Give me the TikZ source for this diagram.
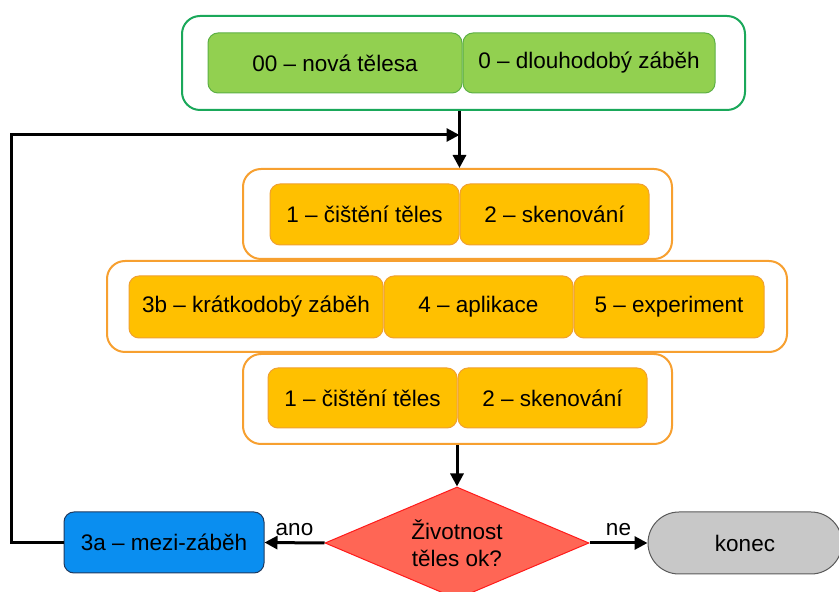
\documentclass[tikz,border=0pt]{standalone}
\usepackage{fontspec}
\setmainfont{Liberation Sans}
\usetikzlibrary{arrows.meta,positioning,shapes.geometric}
\definecolor{ltgreenline}{HTML}{1AA85A}
\definecolor{ltgreen}{HTML}{92D050}
\definecolor{ltgreenedge}{HTML}{5DB045}
\definecolor{ltorangeline}{HTML}{F7A030}
\definecolor{ltgold}{HTML}{FFC000}
\definecolor{ltgoldedge}{HTML}{F0A030}
\definecolor{ltblue}{HTML}{0A8EF0}
\definecolor{ltblueedge}{HTML}{1F3A60}
\definecolor{ltred}{HTML}{FF6655}
\definecolor{ltrededge}{HTML}{FF1A1A}
\definecolor{ltgrey}{HTML}{C8C8C8}
\definecolor{ltgreyedge}{HTML}{5A5A5A}
\tikzset{
  lt text/.style={font=\fontsize{22.5}{27}\selectfont, text=black},
  lt panel/.style={draw=#1, line width=2pt, rounded corners=18pt, fill=white,
    inner sep=0pt},
  lt box/.style={line width=1pt, rounded corners=10pt, inner sep=0pt,
    minimum height=61pt, align=center},
  lt green/.style={lt box, draw=ltgreenedge, fill=ltgreen},
  lt gold/.style={lt box, draw=ltgoldedge, fill=ltgold},
  lt arrow/.style={-{Triangle[length=13pt,width=13pt]}, line width=3pt, draw=black},
  lt label/.style={above=6pt, inner sep=0pt}
}

\begin{document}
\begin{tikzpicture}[lt text, x=1pt, y=1pt]
  \useasboundingbox (0,0) rectangle (839,592);
  % start
  \node[lt panel=ltgreenline, minimum width=563pt, minimum height=94pt] (start) at (463.5,529) {};
  \node[lt green, minimum width=254pt, minimum height=60pt] (new) at (335,529) {00 – nová tělesa};
  \node[lt green, minimum width=252pt, minimum height=60pt, right=0pt of new] (long) {0 – dlouhodobý záběh};
  % cycle
  \node[lt panel=ltorangeline, minimum width=429pt, minimum height=90pt] (prep) at (457.5,378) {};
  \node[lt gold, minimum width=189pt] (clean) at (364.5,377.5) {1 – čištění těles};
  \node[lt gold, minimum width=189pt, right=0pt of clean] (scan) {2 – skenování};
  \node[lt panel=ltorangeline, minimum width=680pt, minimum height=91pt] (test) at (447,285.5) {};
  \node[lt gold, minimum width=254pt, minimum height=62pt] (short) at (256,285) {3b – krátkodobý záběh};
  \node[lt gold, minimum width=189pt, minimum height=62pt, right=0pt of short] (app) {4 – aplikace};
  \node[lt gold, minimum width=190pt, minimum height=62pt, right=0pt of app] (exp) {5 – experiment};
  \node[lt panel=ltorangeline, minimum width=429pt, minimum height=90pt] (post) at (457.5,193) {};
  \node[lt gold, minimum width=189pt, minimum height=60pt] (clean2) at (362.5,194) {1 – čištění těles};
  \node[lt gold, minimum width=189pt, minimum height=60pt, right=0pt of clean2] (scan2) {2 – skenování};
  % decision
  \node[shape=diamond, aspect=2.36, draw=ltrededge, fill=ltred, line width=1pt, inner sep=0pt,
    minimum width=264pt, minimum height=112pt, align=center] (ok) at (457,49) {Životnost\\těles ok?};
  \node[lt box, draw=ltblueedge, fill=ltblue, minimum width=200pt] (mid) at (164,49.5) {3a – mezi-záběh};
  \node[lt box, draw=ltgreyedge, fill=ltgrey, rounded corners=31pt,
    minimum width=194pt, minimum height=62pt] (end) at (745,49) {konec};
  \coordinate (merge) at (clean.east |- 0,457);
  \draw[lt arrow] (start.south -| clean.east) -- (prep.north -| clean.east);
  \draw[lt arrow] (mid.west) -- ++(-52,0) |- (merge);
  \draw[lt arrow] (post.south -| ok.north) -- (ok.north);
  \draw[lt arrow] (ok.west) -- node[lt label] {ano} (mid.east);
  \draw[lt arrow] (ok.east) -- node[lt label] {ne} (end.west);
\end{tikzpicture}
\end{document}
